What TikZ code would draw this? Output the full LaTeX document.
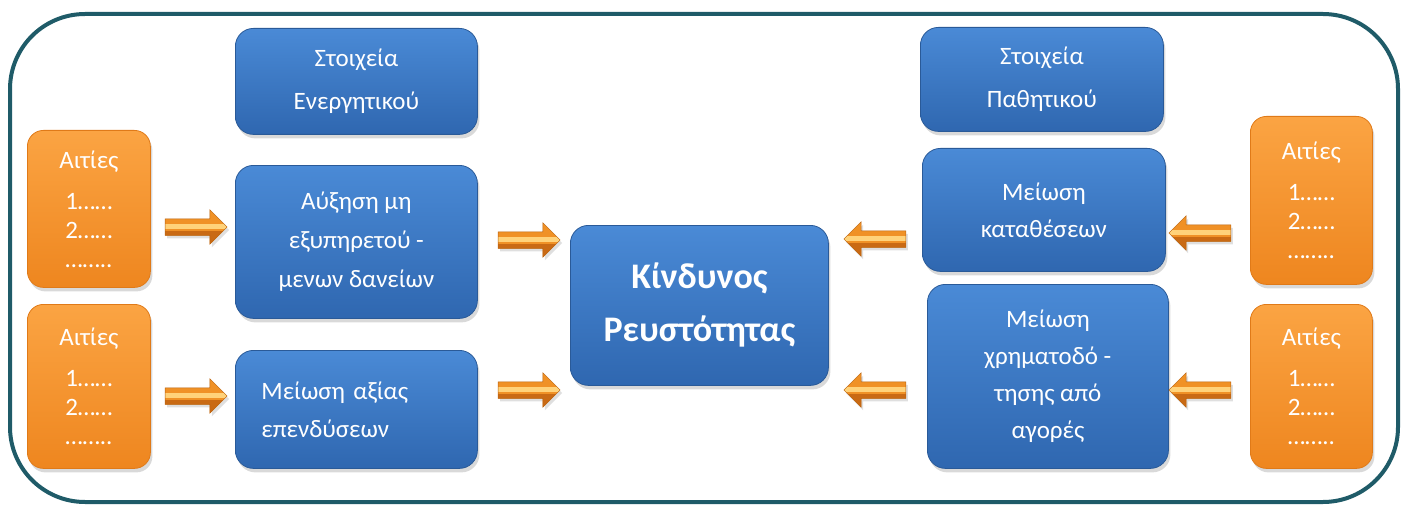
\documentclass[tikz,border=0pt]{standalone}
\usepackage{fontspec}
\setmainfont{Carlito}
\usetikzlibrary{shapes.arrows,shadows,calc}
\definecolor{frame}{HTML}{1F5B68}
\definecolor{bluetop}{HTML}{4A8AD6}
\definecolor{bluebot}{HTML}{2F67B0}
\definecolor{blueedge}{HTML}{2A5A98}
\definecolor{ortop}{HTML}{FBA443}
\definecolor{orbot}{HTML}{EE861F}
\definecolor{oredge}{HTML}{E07A18}
\definecolor{arrbase}{HTML}{F09126}
\definecolor{arrdark}{HTML}{C96A14}
\definecolor{arrlight}{HTML}{FFD27A}
\definecolor{arredge}{HTML}{B8620F}
\tikzset{
  bluebox/.style={draw=blueedge, line width=0.8pt, rounded corners=18pt,
    top color=bluetop, bottom color=bluebot, text=white, align=center,
    anchor=north west, font=\fontsize{25}{38}\selectfont,
    drop shadow={opacity=0.3, shadow xshift=2pt, shadow yshift=-4pt}},
  orbox/.style={draw=oredge, line width=0.8pt, rounded corners=16pt,
    top color=ortop, bottom color=orbot, text=white, align=center,
    anchor=north west, font=\fontsize{25}{29}\selectfont,
    minimum width=123pt,
    drop shadow={opacity=0.3, shadow xshift=2pt, shadow yshift=-4pt}},
  blockarr/.style={single arrow, draw=arredge, line width=0.5pt,
    fill=arrbase,
    minimum height=62pt, minimum width=34pt, inner sep=8pt,
    single arrow head extend=9pt, single arrow tip angle=90,
    path picture={
      \fill[arrdark] ([yshift=-4pt]path picture bounding box.west) rectangle (path picture bounding box.south east);
      \fill[arrlight] ([yshift=-2pt]path picture bounding box.west) rectangle ([yshift=3pt]path picture bounding box.east);
    },
    drop shadow={opacity=0.25, shadow xshift=2pt, shadow yshift=-3pt}},
  rarr/.style={blockarr, shape border rotate=0},
  larr/.style={blockarr, shape border rotate=180},
}
\begin{document}
\begin{tikzpicture}[x=1pt,y=-1pt]
\useasboundingbox (0,0) rectangle (1408,508);
\draw[frame, line width=4pt, rounded corners=75pt] (10,14) rectangle (1398,502);

% blue boxes
\node[bluebox, minimum width=242pt, minimum height=106pt, font=\fontsize{25}{43}\selectfont] (b1) at (235,28) {Στοιχεία\\Ενεργητικού};
\node[bluebox, minimum width=242pt, minimum height=153pt, font=\fontsize{25}{39}\selectfont] (b2) at (235,165) {Αύξηση μη\\εξυπηρετού -\\μενων δανείων};
\node[bluebox, minimum width=242pt, minimum height=118pt, align=left, text width=190pt] (b3) at (235,350) {Μείωση αξίας\\επενδύσεων};
\node[bluebox, minimum width=258pt, minimum height=160pt, font=\fontsize{36}{53}\selectfont\bfseries] (c) at (570,225) {Κίνδυνος\\Ρευστότητας};
\node[bluebox, minimum width=243pt, minimum height=104pt, font=\fontsize{25}{43}\selectfont] (b4) at (920,27) {Στοιχεία\\Παθητικού};
\node[bluebox, minimum width=243pt, minimum height=123pt, font=\fontsize{25}{37}\selectfont] (b5) at (922,148) {Μείωση\\καταθέσεων};
\node[bluebox, minimum width=241pt, minimum height=184pt, font=\fontsize{25}{37}\selectfont] (b6) at (927,284) {Μείωση\\χρηματοδό -\\τησης από\\αγορές};

% orange boxes
\node[orbox, minimum height=157pt] (o1) at (27,130) {Αιτίες\\[12pt]1……\\2……\\……..};
\node[orbox, minimum height=164pt] (o2) at (27,304) {Αιτίες\\[12pt]1……\\2……\\……..};
\node[orbox, minimum width=122pt, minimum height=168pt] (o3) at (1250,116) {Αιτίες\\[12pt]1……\\2……\\……..};
\node[orbox, minimum width=122pt, minimum height=164pt] (o4) at (1250,304) {Αιτίες\\[12pt]1……\\2……\\……..};

% block arrows
\node[rarr] (a1) at (192,227) {};
\node[rarr] (a2) at (192,396) {};
\node[rarr] (a3) at (525,240) {};
\node[rarr] (a4) at (525,390) {};
\node[larr] (a5) at (879,239) {};
\node[larr] (a6) at (879,390) {};
\node[larr] (a7) at (1204,233) {};
\node[larr] (a8) at (1204,390) {};
\end{tikzpicture}
\end{document}
